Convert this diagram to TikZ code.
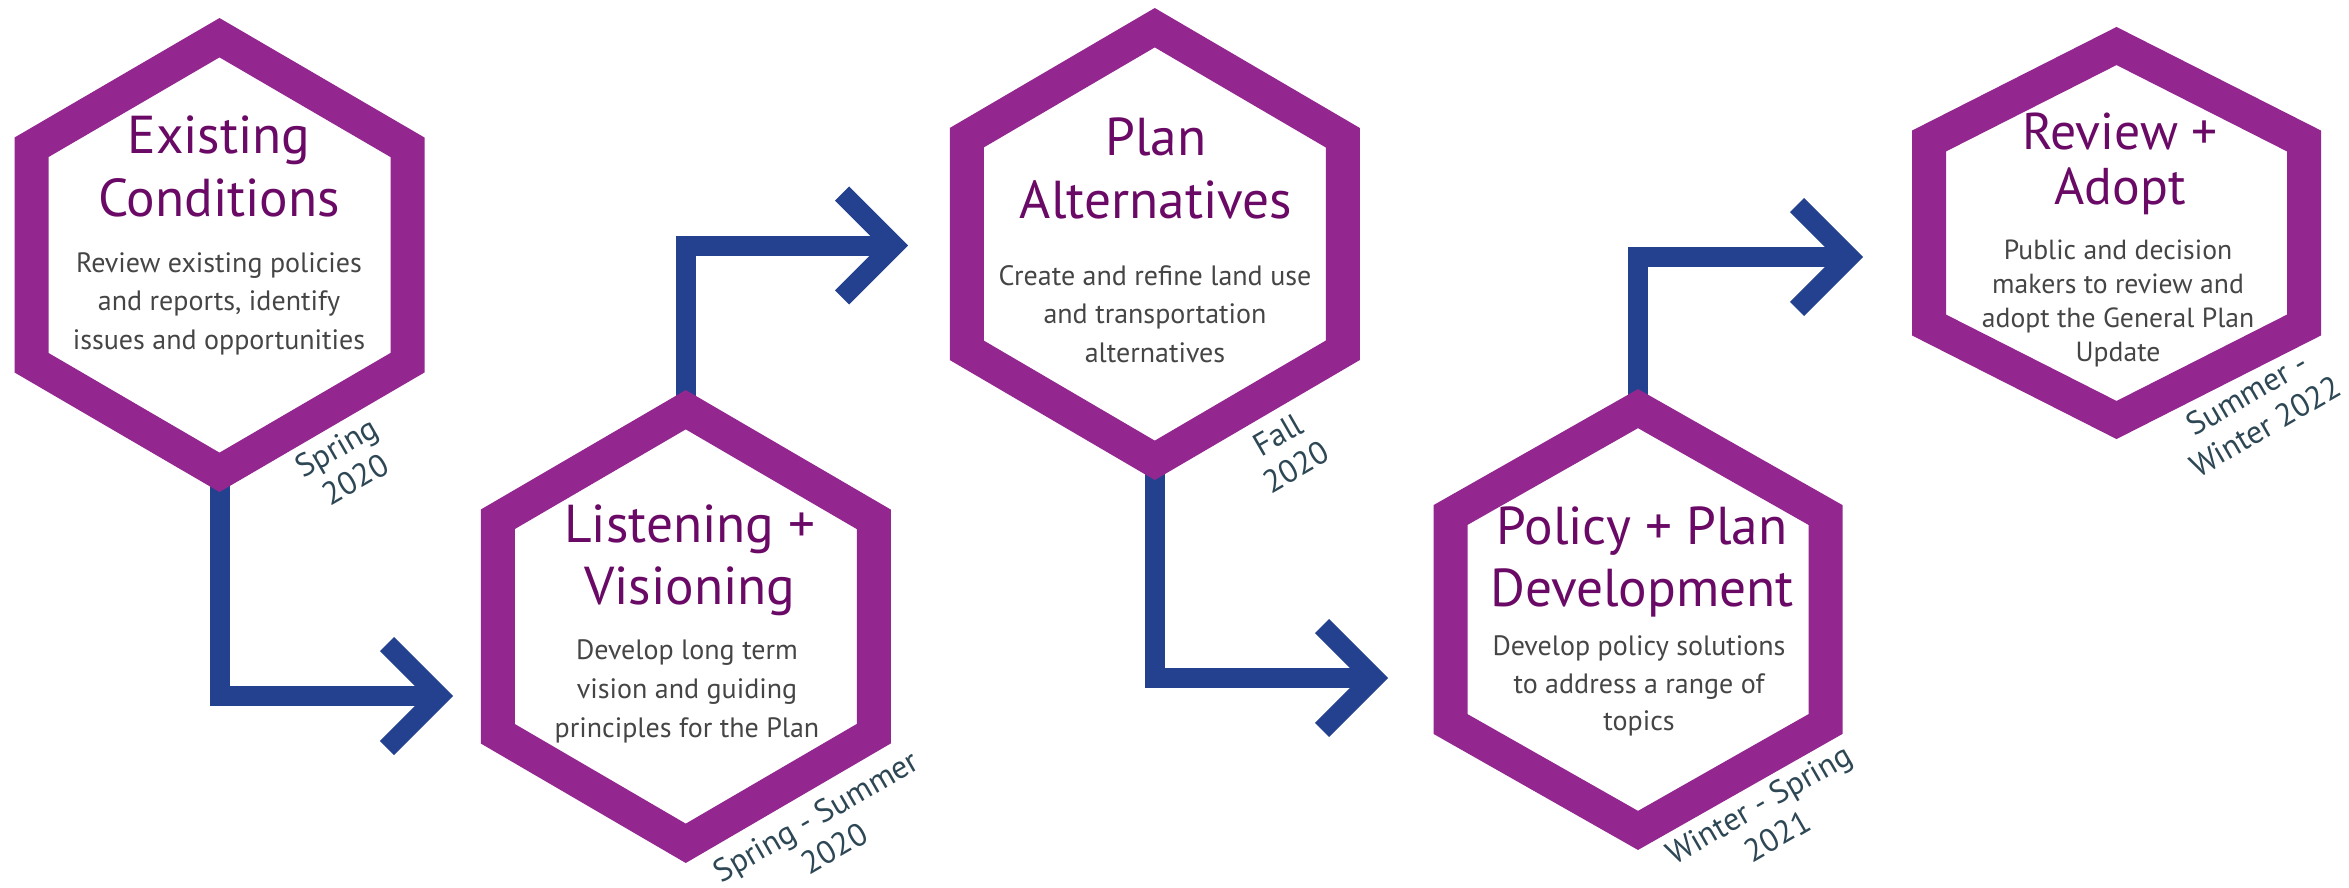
\documentclass[tikz,border=0pt]{standalone}
\usepackage{fontspec}
\setmainfont{PT Sans}
\usetikzlibrary{calc}
\definecolor{hexpurple}{HTML}{93278F}
\definecolor{titlepurple}{HTML}{6A0A66}
\definecolor{bodygray}{HTML}{454545}
\definecolor{dategray}{HTML}{2E4755}
\definecolor{arrowblue}{HTML}{23418E}
\tikzset{
  hexline/.style={draw=hexpurple, line width=10.2pt, line join=miter},
  flowarrow/.style={draw=arrowblue, line width=6pt, line join=miter},
  titletext/.style={anchor=base, inner sep=0pt, text=titlepurple, font=\fontsize{16}{19}\selectfont},
  bodytext/.style={anchor=base, inner sep=0pt, text=bodygray, font=\fontsize{8.4}{10}\selectfont},
  smalltitle/.style={titletext, font=\fontsize{15.5}{18}\selectfont},
  smallbody/.style={bodytext, font=\fontsize{8.3}{10}\selectfont},
  datetext/.style={anchor=center, inner sep=0pt, text=dategray, rotate=30, align=center, font=\fontsize{9.6}{11.2}\selectfont},
}
% name, cx, cy, half width, half height (top), side vertex offset
\newcommand\hexcoords[6]{%
  \coordinate (#1) at (#2,#3);
  \coordinate (#1-t) at (#2,#3-#5);
  \coordinate (#1-ur) at (#2+#4,#3-#6);
  \coordinate (#1-lr) at (#2+#4,#3+#6);
  \coordinate (#1-b) at (#2,#3+#5);
  \coordinate (#1-ll) at (#2-#4,#3+#6);
  \coordinate (#1-ul) at (#2-#4,#3-#6);
}
\newcommand\hexdraw[1]{%
  \draw[hexline] (#1-t) -- (#1-ur) -- (#1-lr) -- (#1-b) -- (#1-ll) -- (#1-ul) -- cycle;
}
\begin{document}
\begin{tikzpicture}[x=0.3pt,y=-0.3pt]
\useasboundingbox (0,0) rectangle (2349,887);

\hexcoords{h1}{219.5}{255}{188}{217.3}{107.7}
\hexcoords{h2}{685.75}{626.5}{188}{216.8}{107.2}
\hexcoords{h3}{1154.75}{244}{188}{216.3}{106.3}
\hexcoords{h4}{1638}{619.5}{187.5}{210.9}{104.5}
\hexcoords{h5}{2116.5}{233}{187.5}{187}{92}

% arrows
\coordinate (a1-tip) at (439,696);
\coordinate (a2-tip) at (894,245.5);
\coordinate (a3-tip) at (1374,678);
\coordinate (a4-tip) at (1849,257);
\draw[flowarrow] (h1-b) |- (a1-tip);
\draw[flowarrow] ($(a1-tip)+(-52,-52)$) -- (a1-tip) -- ($(a1-tip)+(-52,52)$);
\draw[flowarrow] (h2-t) |- (a2-tip);
\draw[flowarrow] ($(a2-tip)+(-52,-52)$) -- (a2-tip) -- ($(a2-tip)+(-52,52)$);
\draw[flowarrow] (h3-b) |- (a3-tip);
\draw[flowarrow] ($(a3-tip)+(-52,-52)$) -- (a3-tip) -- ($(a3-tip)+(-52,52)$);
\draw[flowarrow] (h4-t) |- (a4-tip);
\draw[flowarrow] ($(a4-tip)+(-52,-52)$) -- (a4-tip) -- ($(a4-tip)+(-52,52)$);

% hexagons
\hexdraw{h1}
\hexdraw{h2}
\hexdraw{h3}
\hexdraw{h4}
\hexdraw{h5}

% hexagon 1
\node[titletext] (h1-title1) at (219,153) {Existing};
\node[titletext] (h1-title2) at (219,216) {Conditions};
\node[bodytext] (h1-body1) at (219,272) {Review existing policies};
\node[bodytext] (h1-body2) at (219,310) {and reports, identify};
\node[bodytext] (h1-body3) at (219,349) {issues and opportunities};
\node[datetext] (h1-date) at (346,463) {Spring\\2020};

% hexagon 2
\node[titletext] (h2-title1) at (690,542) {Listening +};
\node[titletext] (h2-title2) at (690,604) {Visioning};
\node[bodytext] (h2-body1) at (687,659) {Develop long term};
\node[bodytext] (h2-body2) at (687,698) {vision and guiding};
\node[bodytext] (h2-body3) at (687,737) {principles for the Plan};
\node[datetext] (h2-date) at (825,832) {Spring - Summer\\2020};

% hexagon 3
\node[titletext] (h3-title1) at (1156,155) {Plan};
\node[titletext] (h3-title2) at (1156,218) {Alternatives};
\node[bodytext] (h3-body1) at (1155,285) {Create and refine land use};
\node[bodytext] (h3-body2) at (1155,323) {and transportation};
\node[bodytext] (h3-body3) at (1155,362) {alternatives};
\node[datetext] (h3-date) at (1287,451) {Fall\\2020};

% hexagon 4
\node[titletext] (h4-title1) at (1642,544) {Policy + Plan};
\node[titletext] (h4-title2) at (1642,606) {Development};
\node[bodytext] (h4-body1) at (1639,655) {Develop policy solutions};
\node[bodytext] (h4-body2) at (1639,693) {to address a range of};
\node[bodytext] (h4-body3) at (1639,730) {topics};
\node[datetext] (h4-date) at (1768,820) {Winter - Spring\\2021};

% hexagon 5
\node[smalltitle] (h5-title1) at (2120,149) {Review +};
\node[smalltitle] (h5-title2) at (2120,204) {Adopt};
\node[smallbody] (h5-body1) at (2118,259) {Public and decision};
\node[smallbody] (h5-body2) at (2118,293) {makers to review and};
\node[smallbody] (h5-body3) at (2118,327) {adopt the General Plan};
\node[smallbody] (h5-body4) at (2118,361) {Update};
\node[datetext] (h5-date) at (2256,410) {Summer -\\Winter 2022};
\end{tikzpicture}
\end{document}
